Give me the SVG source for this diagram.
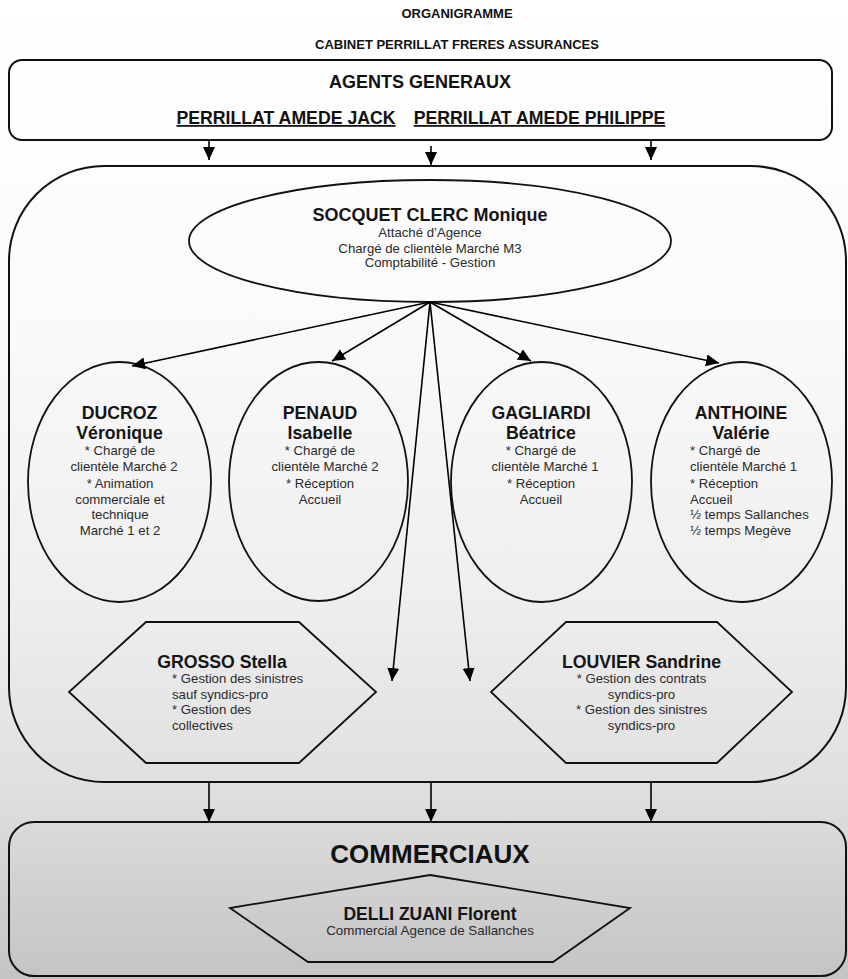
<svg xmlns="http://www.w3.org/2000/svg" width="848" height="979" viewBox="0 0 848 979">
<defs>
<linearGradient id="bg" x1="0" y1="0" x2="0" y2="1">
<stop offset="0" stop-color="#ffffff"/>
<stop offset="0.3" stop-color="#fbfbfb"/>
<stop offset="0.6" stop-color="#efefef"/>
<stop offset="0.8" stop-color="#e0e0e0"/>
<stop offset="1" stop-color="#c4c4c4"/>
</linearGradient>
<marker id="ah" markerUnits="userSpaceOnUse" markerWidth="14" markerHeight="12" refX="13" refY="6" orient="auto">
<path d="M0,0 L13,6 L0,12 z" fill="#000"/>
</marker>
<style>
.box{fill:none;stroke:#111;stroke-width:2}
.shape{fill:none;stroke:#111;stroke-width:1.8}
.con{fill:none;stroke:#000;stroke-width:1.6;marker-end:url(#ah)}
text{font-family:"Liberation Sans",Arial,sans-serif}
.t{font-weight:bold;font-size:13px;fill:#111;text-anchor:middle}
.h{font-weight:bold;font-size:18px;fill:#111;text-anchor:middle}
.n{font-weight:bold;font-size:17.7px;fill:#151515;text-anchor:middle}
.s{font-size:13.2px;fill:#2a2a2a;text-anchor:middle}
.sl{font-size:13.2px;fill:#2a2a2a}
</style>
</defs>
<rect x="0" y="0" width="848" height="979" fill="url(#bg)"/>

<g id="title">
<text class="t" x="457" y="18">ORGANIGRAMME</text>
<text class="t" x="457" y="49">CABINET PERRILLAT FRERES ASSURANCES</text>
</g>

<g id="agents">
<rect class="box" x="9" y="60" width="823" height="80" rx="13"/>
<text class="h" x="420" y="88">AGENTS GENERAUX</text>
<text class="h" x="286" y="124" text-decoration="underline" style="font-size:17.7px">PERRILLAT AMEDE JACK</text>
<text class="h" x="539.5" y="124" text-decoration="underline" style="font-size:17.7px">PERRILLAT AMEDE PHILIPPE</text>
</g>

<g id="equipe">
<rect class="box" x="9" y="166" width="837" height="616" rx="95"/>
</g>

<g id="socquet">
<ellipse class="shape" cx="430" cy="241" rx="241" ry="61"/>
<text class="n" x="430" y="221" style="font-size:18px">SOCQUET CLERC Monique</text>
<text class="s" x="430" y="237">Attaché d’Agence</text>
<text class="s" x="430" y="253">Chargé de clientèle Marché M3</text>
<text class="s" x="430" y="267">Comptabilité - Gestion</text>
</g>

<g id="ducroz">
<ellipse class="shape" cx="119.5" cy="482" rx="91.5" ry="120"/>
<text class="n" x="119.5" y="419">DUCROZ</text>
<text class="n" x="119.5" y="439">Véronique</text>
<text class="s" x="120" y="455">* Chargé de</text>
<text class="s" x="124" y="471">clientèle Marché 2</text>
<text class="s" x="120" y="488">* Animation</text>
<text class="s" x="120" y="504">commerciale et</text>
<text class="s" x="120" y="519">technique</text>
<text class="s" x="120" y="535">Marché 1 et 2</text>
</g>

<g id="penaud">
<ellipse class="shape" cx="318.5" cy="481.5" rx="89.5" ry="119.5"/>
<text class="n" x="320" y="419">PENAUD</text>
<text class="n" x="320" y="439">Isabelle</text>
<text class="s" x="320" y="455">* Chargé de</text>
<text class="s" x="325" y="471">clientèle Marché 2</text>
<text class="s" x="320" y="488">* Réception</text>
<text class="s" x="320" y="504">Accueil</text>
</g>

<g id="gagliardi">
<ellipse class="shape" cx="541.5" cy="482" rx="90.5" ry="120"/>
<text class="n" x="541" y="419">GAGLIARDI</text>
<text class="n" x="541" y="439">Béatrice</text>
<text class="s" x="541" y="455">* Chargé de</text>
<text class="s" x="545" y="471">clientèle Marché 1</text>
<text class="s" x="541" y="488">* Réception</text>
<text class="s" x="541" y="504">Accueil</text>
</g>

<g id="anthoine">
<ellipse class="shape" cx="741.5" cy="482" rx="90.5" ry="120"/>
<text class="n" x="741" y="419">ANTHOINE</text>
<text class="n" x="741" y="439">Valérie</text>
<text class="sl" x="690" y="455">* Chargé de</text>
<text class="sl" x="690" y="471">clientèle Marché 1</text>
<text class="sl" x="690" y="488">* Réception</text>
<text class="sl" x="690" y="504">Accueil</text>
<text class="sl" x="690" y="519">½ temps Sallanches</text>
<text class="sl" x="690" y="535">½ temps Megève</text>
</g>

<g id="grosso">
<polygon class="shape" points="146,622 299,622 376,692 299,763 146,763 69,692"/>
<text class="n" x="222" y="668" text-anchor="middle">GROSSO Stella</text>
<text class="sl" x="172" y="683">* Gestion des sinistres</text>
<text class="sl" x="172" y="699">sauf syndics-pro</text>
<text class="sl" x="172" y="714">* Gestion des</text>
<text class="sl" x="172" y="730">collectives</text>
</g>

<g id="louvier">
<polygon class="shape" points="566,622 717,622 792,692 717,763 566,763 491,692"/>
<text class="n" x="641.5" y="668">LOUVIER Sandrine</text>
<text class="s" x="641.5" y="683">* Gestion des contrats</text>
<text class="s" x="641.5" y="699">syndics-pro</text>
<text class="s" x="641.5" y="714">* Gestion des sinistres</text>
<text class="s" x="641.5" y="730">syndics-pro</text>
</g>

<g id="commerciaux">
<rect class="box" x="9" y="822" width="837" height="154" rx="25"/>
<text class="h" x="430" y="863" style="font-size:26px">COMMERCIAUX</text>
</g>

<g id="delli">
<polygon class="shape" points="430,875 630,908 553,962 308,962 230,908"/>
<text class="n" x="430" y="920" style="font-size:17.5px">DELLI ZUANI Florent</text>
<text class="s" x="430" y="935" style="font-size:13.4px">Commercial Agence de Sallanches</text>
</g>

<g id="connectors">
<line class="con" x1="209" y1="140" x2="209" y2="160"/>
<line class="con" x1="431" y1="146" x2="431" y2="165"/>
<line class="con" x1="651" y1="140" x2="651" y2="160"/>
<line class="con" x1="430" y1="302" x2="132" y2="366"/>
<line class="con" x1="430" y1="302" x2="332" y2="361"/>
<line class="con" x1="430" y1="302" x2="531" y2="361"/>
<line class="con" x1="430" y1="302" x2="719" y2="363"/>
<line class="con" x1="430" y1="302" x2="392" y2="681"/>
<line class="con" x1="430" y1="302" x2="470" y2="681"/>
<line class="con" x1="209" y1="782" x2="209" y2="822"/>
<line class="con" x1="431" y1="782" x2="431" y2="822"/>
<line class="con" x1="651" y1="782" x2="651" y2="822"/>
</g>
</svg>
